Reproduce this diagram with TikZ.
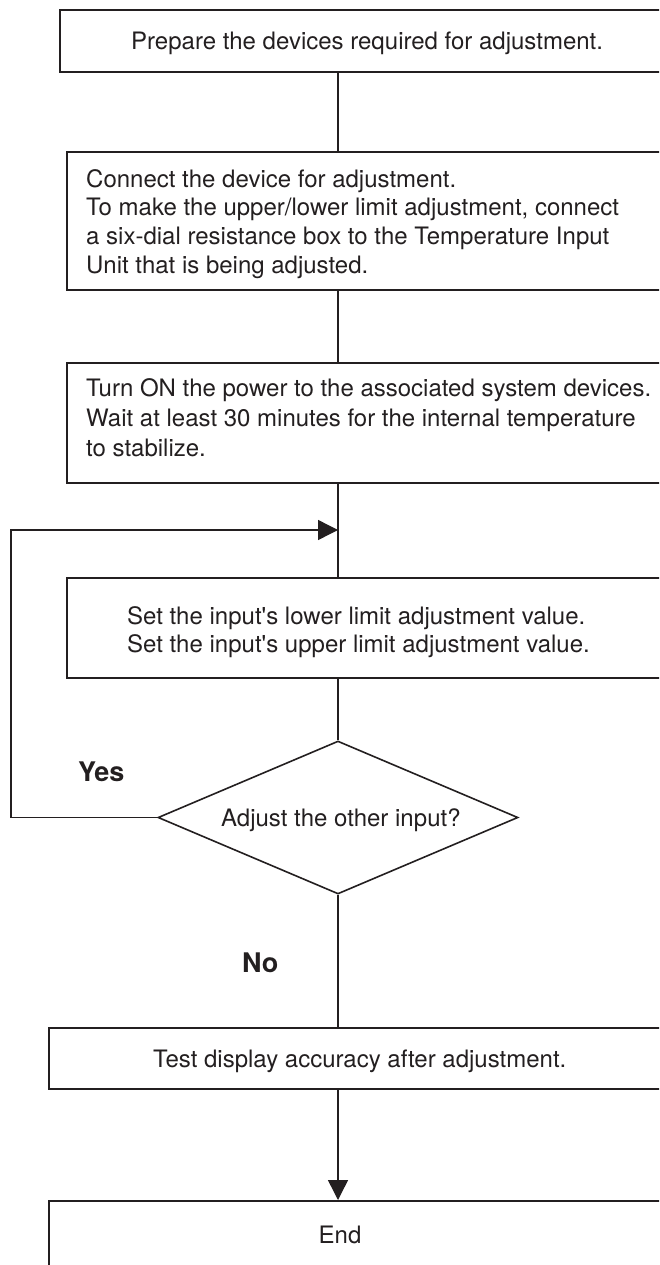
\documentclass[tikz,border=0pt]{standalone}
\usepackage{fontspec}
\setmainfont{TeX Gyre Heros}
\usetikzlibrary{arrows.meta,shapes.geometric}
\definecolor{ink}{RGB}{35,31,32}
\begin{document}
\begin{tikzpicture}[x=1pt,y=-1pt,
  box/.style={draw=ink,line width=2pt,rectangle,anchor=north west,inner sep=0pt,minimum width=680pt},
  txt/.style={anchor=base west,inner sep=0pt,text=ink,font=\fontsize{24}{29}\selectfont},
  lbl/.style={anchor=base west,inner sep=0pt,text=ink,font=\fontsize{27}{32}\selectfont\bfseries},
  conn/.style={draw=ink,line width=1.4pt},
  arr/.style={conn,-{Triangle[length=20pt,width=20pt]}}]
\useasboundingbox (0,0) rectangle (659,1265);
\clip (0,0) rectangle (659,1265);
% boxes
\node[box,minimum height=62pt] (b1) at (59,9) {};
\node[box,minimum height=138pt] (b2) at (66,151) {};
\node[box,minimum height=120pt] (b3) at (66,362) {};
\node[box,minimum height=100pt] (b4) at (66,577) {};
\node[draw=ink,line width=1.6pt,diamond,minimum width=360pt,minimum height=153pt,inner sep=0pt] (d) at (338,817.5) {};
\node[box,minimum height=61pt] (b5) at (48,1027) {};
\node[box,minimum height=120pt] (b6) at (48,1200) {};
% texts
\node[txt] (t1) at (131,49.3) {Prepare the devices required for adjustment.};
\node[txt] (t2a) at (86,187.3) {Connect the device for adjustment.};
\node[txt] (t2b) at (86,216) {To make the upper/lower limit adjustment, connect};
\node[txt] (t2c) at (86,244.6) {a six-dial resistance box to the Temperature Input};
\node[txt] (t2d) at (86,273.3) {Unit that is being adjusted.};
\node[txt] (t3a) at (86,396.7) {Turn ON the power to the associated system devices.};
\node[txt] (t3b) at (86,426.7) {Wait at least 30 minutes for the internal temperature};
\node[txt] (t3c) at (86,456.7) {to stabilize.};
\node[txt] (t4a) at (127,624) {Set the input\textquotesingle s lower limit adjustment value.};
\node[txt] (t4b) at (127,652) {Set the input\textquotesingle s upper limit adjustment value.};
\node[txt] (td) at (221,826.7) {Adjust the other input?};
\node[lbl] (yes) at (78,781.7) {Yes};
\node[lbl] (no) at (242,972.3) {No};
\node[txt] (t5) at (153,1067.7) {Test display accuracy after adjustment.};
\node[txt,anchor=base] (t6) at (340,1243) {End};
% connectors
\coordinate (lp) at (11,530);
\coordinate (j) at (338,530);
\draw[conn] (b1.south -| d.north) -- (b2.north -| d.north);
\draw[conn] (b2.south -| d.north) -- (b3.north -| d.north);
\draw[conn] (b3.south -| d.north) -- (b4.north -| d.north);
\draw[conn] (b4.south -| d.north) -- (d.north);
\draw[conn] (d.south) -- (b5.north -| d.south);
\draw[arr] (b5.south -| d.south) -- (b6.north -| d.south);
\draw[arr] (d.west) -| (lp) -- (j);
\end{tikzpicture}
\end{document}
